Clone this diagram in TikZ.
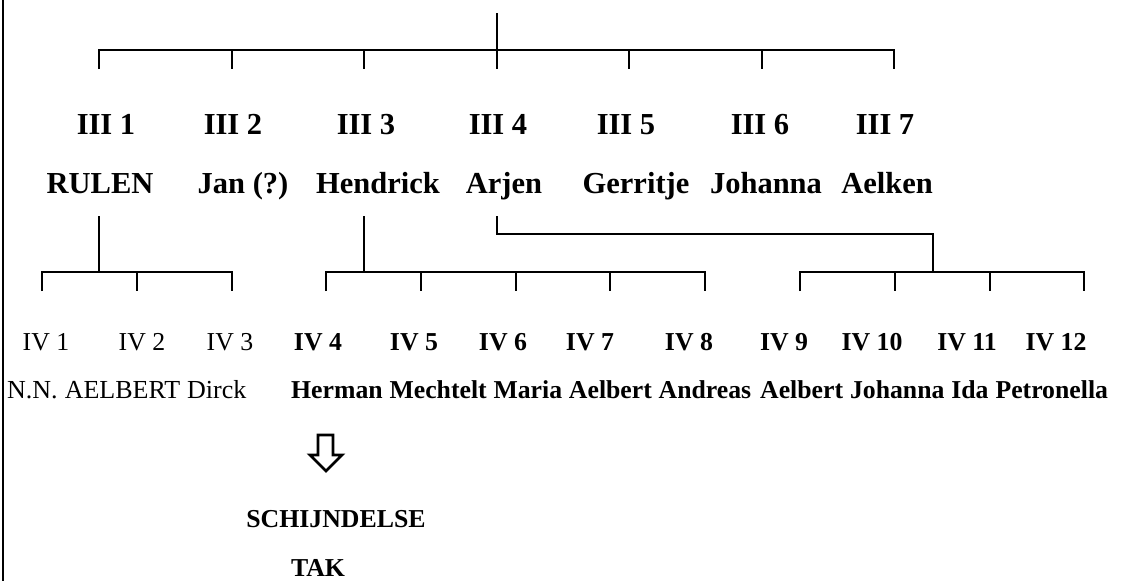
\documentclass[tikz,border=0pt]{standalone}
\usepackage{fontspec}
\setmainfont{Liberation Serif}
\begin{document}
\begin{tikzpicture}[x=1pt,y=-1pt,
  conn/.style={line width=2.7pt},
  gen3/.style={inner sep=0pt,anchor=base,font=\fontsize{30.5}{36}\selectfont\bfseries},
  gen4/.style={inner sep=0pt,anchor=base,font=\fontsize{25.8}{30}\selectfont},
  gen4b/.style={gen4,font=\fontsize{25.8}{30}\selectfont\bfseries},
  namer/.style={inner sep=0pt,anchor=base west,font=\fontsize{26}{30}\selectfont},
  nameb/.style={inner sep=0pt,anchor=base west,font=\fontsize{25.75}{30}\selectfont\bfseries}]
\useasboundingbox (0,0) rectangle (1126,581);
\draw[line width=1.2pt] (3,0) -- (3,581);

% --- generation III bar ---
\coordinate (top) at (497,13);
\foreach \i/\x in {1/99,2/232,3/364,4/497,5/629,6/762,7/894}{
  \coordinate (t\i) at (\x,50);
  \coordinate (b\i) at (\x,69);
}
\draw[conn] (top) -- (b4);
\draw[conn] (b1) -- (t1) -- (t7) -- (b7);
\foreach \i in {2,3,5,6}{\draw[conn] (t\i) -- (b\i);}

% --- generation III labels ---
\foreach \i/\x in {1/106,2/233,3/366,4/498,5/626,6/760,7/885}{
  \node[gen3] (L\i) at (\x,134) {III \i};
}
\node[gen3] (n1) at (100,193) {RULEN};
\node[gen3] (n2) at (243,193) {Jan (?)};
\node[gen3] (n3) at (378,193) {Hendrick};
\node[gen3] (n4) at (504,193) {Arjen};
\node[gen3] (n5) at (636,193) {Gerritje};
\node[gen3] (n6) at (766,193) {Johanna};
\node[gen3] (n7) at (887,193) {Aelken};

% --- drops to generation IV ---
\coordinate (d1) at (99,216);
\coordinate (d3) at (364,216);
\coordinate (d4) at (497,216);
\coordinate (k4) at (497,234);
\coordinate (k4r) at (933,234);

\foreach \i/\x in {1/42,2/137,3/232,4/326,5/421,6/516,7/610,8/705,9/800,10/895,11/990,12/1084}{
  \coordinate (u\i) at (\x,272);
  \coordinate (v\i) at (\x,291);
}
\coordinate (j1) at (99,272);
\coordinate (j3) at (364,272);
\coordinate (j4) at (933,272);
\draw[conn] (d1) -- (j1);
\draw[conn] (d3) -- (j3);
\draw[conn] (d4) -- (k4) -- (k4r) -- (j4);
\draw[conn] (v1) -- (u1) -- (u3) -- (v3);
\draw[conn] (v4) -- (u4) -- (u8) -- (v8);
\draw[conn] (v9) -- (u9) -- (u12) -- (v12);
\foreach \i in {2,5,6,7,10,11}{\draw[conn] (u\i) -- (v\i);}

% --- generation IV labels ---
\foreach \i/\x in {1/46,2/142,3/230}{
  \node[gen4] (M\i) at (\x,350) {IV \i};
}
\foreach \i/\x in {4/318,5/414,6/503,7/590,8/689,9/784,10/872,11/967,12/1056}{
  \node[gen4b] (M\i) at (\x,350) {IV \i};
}

% --- generation IV names ---
\node[namer] (m1) at (7,398) {N.N.};
\node[namer] (m2) at ([xshift=6.6pt]m1.base east) {AELBERT};
\node[namer] (m3) at ([xshift=6.6pt]m2.base east) {Dirck};

\node[nameb] (m4) at (291,398) {Herman};
\node[nameb] (m5) at ([xshift=6.4pt]m4.base east) {Mechtelt};
\node[nameb] (m6) at ([xshift=6.4pt]m5.base east) {Maria};
\node[nameb] (m7) at ([xshift=6.4pt]m6.base east) {Aelbert};
\node[nameb] (m8) at ([xshift=6.4pt]m7.base east) {Andreas};

\node[nameb] (m9) at (760,398) {Aelbert};
\node[nameb] (m10) at ([xshift=6.5pt]m9.base east) {Johanna};
\node[nameb] (m11) at ([xshift=6.5pt]m10.base east) {Ida};
\node[nameb] (m12) at ([xshift=6.5pt]m11.base east) {Petronella};

% --- hollow down arrow ---
\draw[line width=2.7pt,line join=miter]
  (318,435) -- (333,435) -- (333,455) -- (342,455) -- (326,471)
  -- (310,455) -- (318,455) -- cycle;

\node[gen4b] (tak1) at (336,527) {SCHIJNDELSE};
\node[gen4b] (tak2) at (318,576) {TAK};
\end{tikzpicture}
\end{document}
